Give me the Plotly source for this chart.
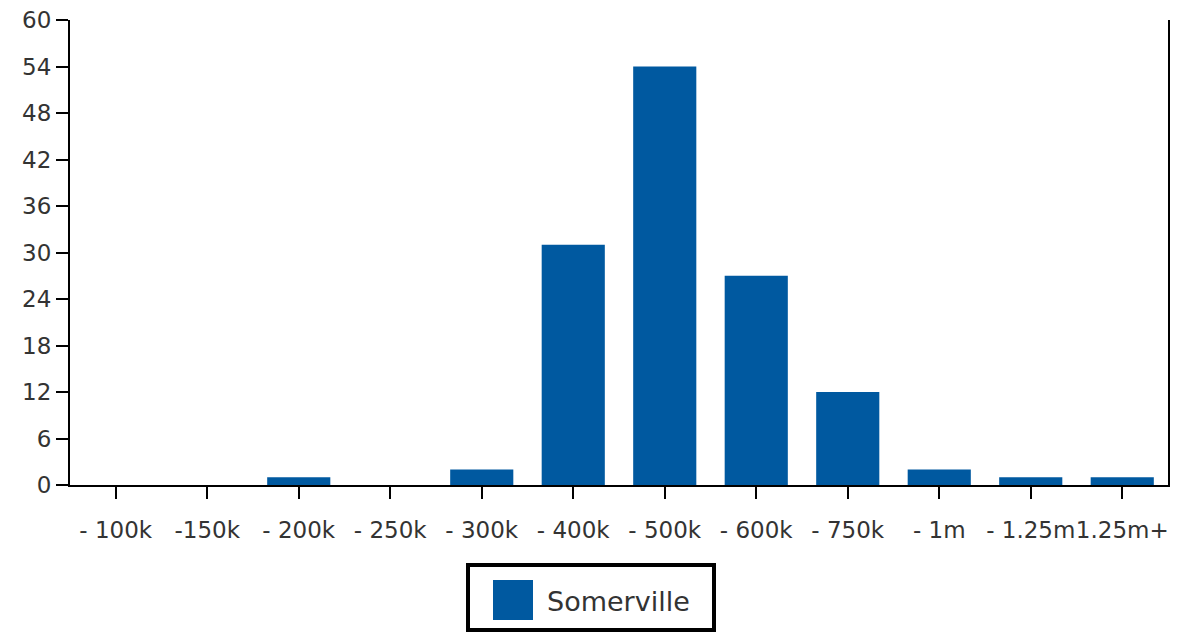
import plotly.graph_objects as go

categories = ["- 100k", "-150k", "- 200k", "- 250k", "- 300k", "- 400k",
              "- 500k", "- 600k", "- 750k", "- 1m", "- 1.25m", "1.25m+"]
somerville = [0, 0, 1, 0, 2, 31, 54, 27, 12, 2, 1, 1]
y_ticks = [0, 6, 12, 18, 24, 30, 36, 42, 48, 54, 60]
series_name = "Somerville"

BAR = "#0059a0"
FONT = "DejaVu Sans"
TXT = "#333333"

fig = go.Figure()
fig.add_trace(go.Bar(
    x=categories, y=somerville, name=series_name,
    marker=dict(color=BAR, line=dict(width=0)),
    showlegend=False,
))

# page is drawn with an 8px body margin, so the figure is offset by 8px
OFF = 8
W, H = 1183 - OFF, 632 - OFF
L, T = 70 - OFF, 20 - OFF
R = W - (1168 - OFF)
B = H - (485 - OFF)
pw, ph = W - L - R, H - T - B

def px_x(p):
    return (p - OFF - L) / pw

def px_y(p):
    return (H - B - (p - OFF)) / ph

fig.update_layout(
    width=W, height=H,
    margin=dict(l=L, r=R, t=T, b=B, autoexpand=False),
    paper_bgcolor="white", plot_bgcolor="white",
    bargap=0.31,
    font=dict(family=FONT, size=24, color=TXT),
    xaxis=dict(
        type="category", showline=True, linecolor="black", linewidth=2,
        ticks="outside", ticklen=12, tickwidth=2, tickcolor="black",
        showgrid=False, zeroline=False, ticklabelstandoff=11, automargin=False,
        tickangle=0, ticklabeloverflow="allow",
        tickfont=dict(family=FONT, size=23, color=TXT),
    ),
    yaxis=dict(
        range=[0, 60], tickvals=y_ticks, showline=True, linecolor="black",
        linewidth=2, mirror=True, ticks="outside", ticklen=12, tickwidth=2,
        tickcolor="black", showgrid=False, zeroline=False, automargin=False,
        ticklabeloverflow="allow",
        tickfont=dict(family=FONT, size=23, color=TXT),
    ),
    shapes=[
        dict(type="rect", xref="paper", yref="paper",
             x0=px_x(468), x1=px_x(714), y0=px_y(630), y1=px_y(565),
             line=dict(color="black", width=4), fillcolor="white"),
        dict(type="rect", xref="paper", yref="paper",
             x0=px_x(493), x1=px_x(533), y0=px_y(620), y1=px_y(580),
             line=dict(width=0), fillcolor=BAR),
    ],
    annotations=[
        dict(text=series_name, xref="paper", yref="paper",
             x=px_x(545), y=px_y(602), xanchor="left", yanchor="middle",
             showarrow=False, font=dict(family=FONT, size=27, color=TXT)),
    ],
)

fig.write_html("out.html")
